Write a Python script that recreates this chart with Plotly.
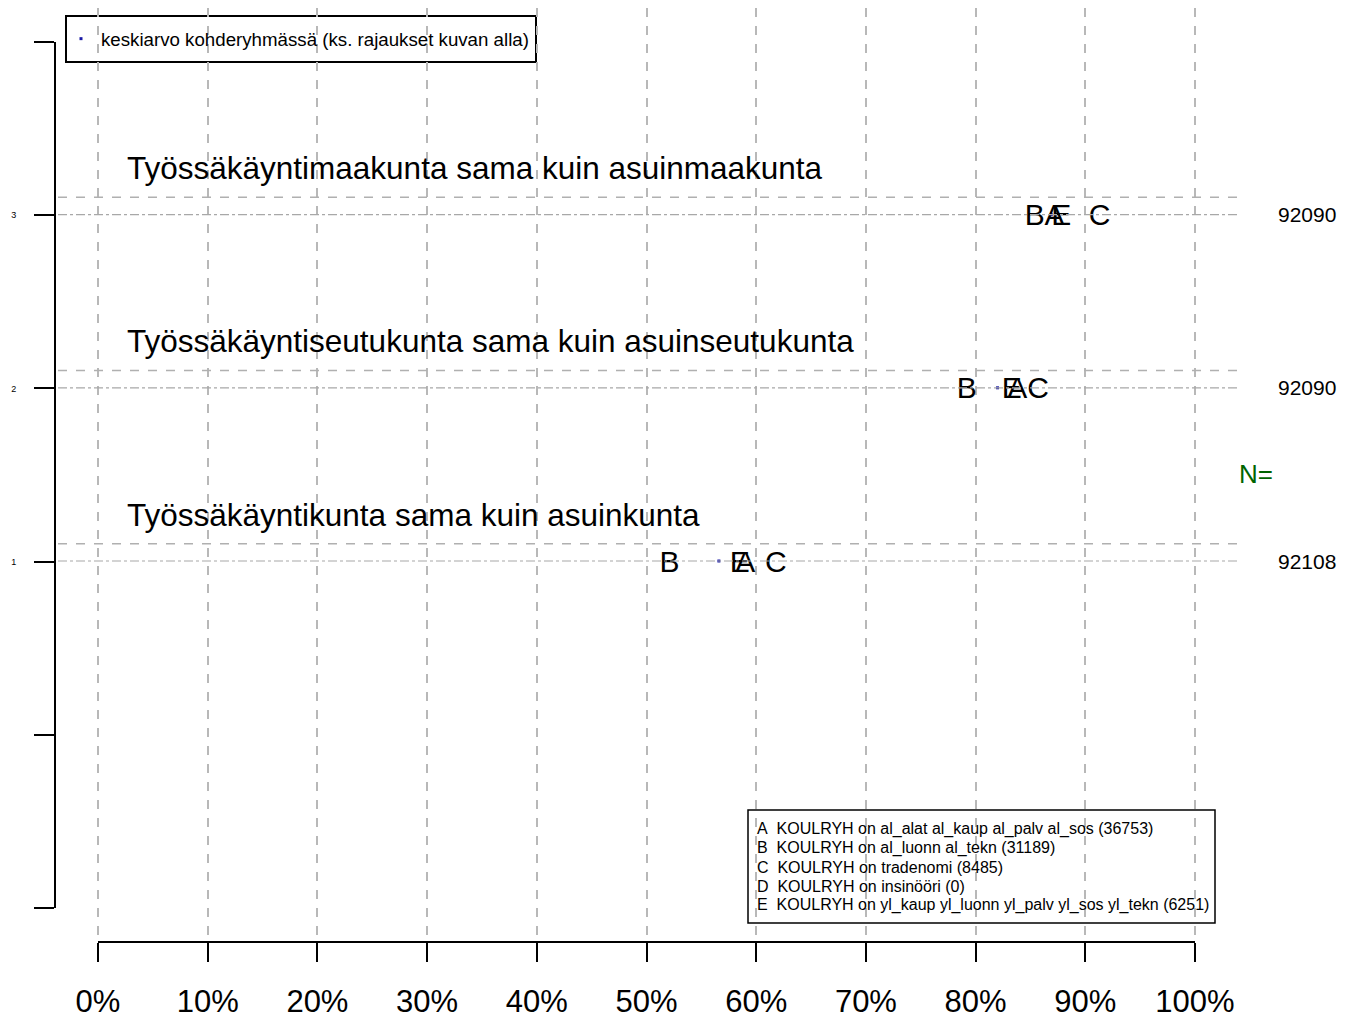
import plotly.graph_objects as go

# ---------------- data ----------------
rows = [1, 2, 3]
row_labels = [
    "Työssäkäyntikunta sama kuin asuinkunta",
    "Työssäkäyntiseutukunta sama kuin asuinseutukunta",
    "Työssäkäyntimaakunta sama kuin asuinmaakunta",
]
n_values = [92108, 92090, 92090]
group_letters = ["A", "B", "C", "E"]
A_vals = [59.0, 83.8, 87.2]
B_vals = [52.1, 79.2, 85.4]
C_vals = [61.8, 85.7, 91.3]
E_vals = [58.5, 83.3, 87.8]
mean_vals = [56.6, 82.0, 86.9]
x_ticks = [0, 10, 20, 30, 40, 50, 60, 70, 80, 90, 100]
x_tick_labels = [f"{v}%" for v in x_ticks]
y_ticks = [-1, 0, 1, 2, 3, 4]
y_tick_labels = ["", "", "1", "2", "3", ""]
legend_lines = [
    "A  KOULRYH on al_alat al_kaup al_palv al_sos (36753)",
    "B  KOULRYH on al_luonn al_tekn (31189)",
    "C  KOULRYH on tradenomi (8485)",
    "D  KOULRYH on insinööri (0)",
    "E  KOULRYH on yl_kaup yl_luonn yl_palv yl_sos yl_tekn (6251)",
]
mean_label = "keskiarvo kohderyhmässä (ks. rajaukset kuvan alla)"

# ---------------- layout constants ----------------
W, H = 1351, 1018
OFF = 8  # page body margin offset
FONT = "Liberation Sans, Arial, Helvetica, sans-serif"
px_x0, px_x100 = 98, 1195
sx = (px_x100 - px_x0) / 100.0
y0_px, sy = 734.2, 173.2   # screen pixel of value 0, pixels per unit
grid_bottom_px = 936
text_drop = 3  # letters sit slightly low in the reference


def px(p):
    """screen x pixel -> paper fraction"""
    return (p - OFF) / W


def py(p):
    """screen y pixel -> paper fraction"""
    return 1 - (p - OFF) / H


def vx(p):
    return (p - px_x0) / sx


def vy(p):
    return (y0_px - p) / sy


fig = go.Figure()

# letters (drawn on an overlaid y-axis shifted by a few pixels)
group_vals = {"A": A_vals, "B": B_vals, "C": C_vals, "E": E_vals}
for g in group_letters:
    fig.add_trace(go.Scatter(
        x=group_vals[g], y=rows, mode="text", text=[g] * len(rows),
        yaxis="y3",
        textposition="middle center",
        textfont=dict(family=FONT, size=30, color="black"),
        showlegend=False, hoverinfo="skip", cliponaxis=False))

# mean markers
fig.add_trace(go.Scatter(
    x=mean_vals, y=rows, mode="markers",
    marker=dict(size=3, color="#1a1aa6", symbol="square"),
    name=mean_label, showlegend=True, hoverinfo="skip"))

# invisible trace to create the framed axes subplot
fig.add_trace(go.Scatter(x=[0, 100], y=[-1, 4], xaxis="x2", yaxis="y2",
                         mode="markers", marker=dict(opacity=0),
                         showlegend=False, hoverinfo="skip"))

shapes = []
for r in rows:
    shapes.append(dict(type="line", xref="paper", yref="y",
                       x0=px(58), x1=px(1237), y0=r + 0.1, y1=r + 0.1,
                       line=dict(color="#b0b0b0", width=1.5, dash="dash")))
    shapes.append(dict(type="line", xref="paper", yref="y",
                       x0=px(58), x1=px(1237), y0=r, y1=r,
                       line=dict(color="#a8a8a8", width=1.2, dash="dashdot")))
# legend frames
shapes.append(dict(type="rect", xref="paper", yref="paper",
                   x0=px(66), x1=px(536), y0=py(62), y1=py(16),
                   line=dict(color="black", width=2), fillcolor="white",
                   layer="below"))
shapes.append(dict(type="rect", xref="paper", yref="paper",
                   x0=px(748), x1=px(1215), y0=py(923), y1=py(810),
                   line=dict(color="black", width=1.5),
                   fillcolor="rgba(0,0,0,0)", layer="above"))

annotations = []
for r, lab, n in zip(rows, row_labels, n_values):
    annotations.append(dict(xref="paper", yref="y", x=px(125), y=r + 0.268,
                            xanchor="left", yanchor="middle", text=lab,
                            showarrow=False,
                            font=dict(family=FONT, size=31.5, color="black")))
    annotations.append(dict(xref="paper", yref="y", x=px(1307), y=r,
                            xanchor="center", yanchor="middle", text=str(n),
                            showarrow=False,
                            font=dict(family=FONT, size=21, color="black")))
annotations.append(dict(xref="paper", yref="y", x=px(1256), y=1.5,
                        xanchor="center", yanchor="middle", text="N=",
                        showarrow=False,
                        font=dict(family=FONT, size=26, color="#006400")))
for i, line in enumerate(legend_lines):
    annotations.append(dict(xref="paper", yref="paper", x=px(755),
                            y=py(829 + 19 * i),
                            xanchor="left", yanchor="middle", align="left",
                            text=line.replace("  ", "\u00a0\u00a0"),
                            showarrow=False,
                            font=dict(family=FONT, size=16, color="black")))

main_yrange = [vy(grid_bottom_px), vy(OFF)]
shift = text_drop / sy

fig.update_layout(
    template="none",
    width=W, height=H, autosize=False,
    margin=dict(l=0, r=0, t=0, b=0, pad=0),
    paper_bgcolor="white", plot_bgcolor="rgba(0,0,0,0)",
    font=dict(family=FONT, color="black"),
    xaxis=dict(domain=[0, 1], range=[vx(OFF), vx(W + OFF)], showgrid=True,
               gridcolor="#b8b8b8", gridwidth=1.5, griddash="dash",
               tickmode="array", tickvals=x_ticks, showticklabels=False,
               ticks="", zeroline=False, showline=False, fixedrange=True,
               automargin=False),
    yaxis=dict(domain=[py(grid_bottom_px), 1],
               range=main_yrange, showgrid=False,
               showticklabels=False, ticks="", zeroline=False,
               showline=False, fixedrange=True, automargin=False),
    yaxis3=dict(overlaying="y", range=[main_yrange[0] + shift, main_yrange[1] + shift],
                visible=False, showgrid=False, zeroline=False,
                fixedrange=True, automargin=False),
    xaxis2=dict(domain=[px(px_x0), px(px_x100)], range=[0, 100],
                anchor="free", position=py(942),
                showline=True, linecolor="black", linewidth=2,
                ticks="outside", ticklen=19, tickwidth=2, tickcolor="black",
                tickmode="array", tickvals=x_ticks, ticktext=x_tick_labels,
                tickfont=dict(family=FONT, size=31, color="black"),
                ticklabelstandoff=13,
                showgrid=False, zeroline=False, fixedrange=True,
                automargin=False),
    yaxis2=dict(domain=[py(908), py(42)], range=[-1, 4],
                anchor="free", position=px(55), side="left",
                showline=True, linecolor="black", linewidth=2,
                ticks="outside", ticklen=20, tickwidth=2, tickcolor="black",
                tickmode="array", tickvals=y_ticks, ticktext=y_tick_labels,
                tickfont=dict(family=FONT, size=9, color="black"),
                ticklabelstandoff=16,
                showgrid=False, zeroline=False, fixedrange=True,
                automargin=False),
    showlegend=True,
    legend=dict(x=px(61), y=py(20), xanchor="left", yanchor="top",
                borderwidth=0, bgcolor="rgba(0,0,0,0)",
                font=dict(family=FONT, size=18.7, color="black"),
                itemsizing="trace", tracegroupgap=0),
    shapes=shapes, annotations=annotations,
)

fig.write_html("out.html")
